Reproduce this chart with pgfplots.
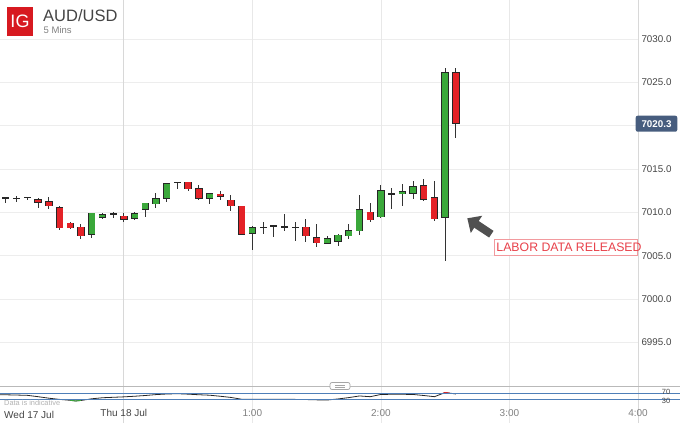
\documentclass[border=0pt]{standalone}
\usepackage{pgfplots}
\usepackage{pgfplotstable}
\pgfplotsset{compat=1.18}
\usepackage{fontspec}
\setmainfont{Liberation Sans}
\usetikzlibrary{arrows.meta}

\definecolor{cgreen}{HTML}{3AA83A}
\definecolor{cred}{HTML}{E42227}
\definecolor{outl}{HTML}{262626}
\definecolor{wick}{HTML}{333333}
\definecolor{gridc}{HTML}{EDEDED}
\definecolor{vgrid}{HTML}{E8E8E8}
\definecolor{vgridd}{HTML}{D8D8D8}
\definecolor{tickc}{HTML}{444444}
\definecolor{timec}{HTML}{808080}
\definecolor{igred}{HTML}{D71920}
\definecolor{pricebox}{HTML}{475D7E}
\definecolor{labred}{HTML}{E8414A}
\definecolor{labbox}{HTML}{F29A9E}
\definecolor{arrowc}{HTML}{505050}
\definecolor{rsiblue}{HTML}{4F7FB8}

% t = 5-minute candle index from 0:00 Thu 18 Jul
\pgfplotstableread{
t   o        h        l        c
-3  7007.47  7010.08  7007.20  7009.90
-2  7009.47  7010.01  7009.27  7009.74
1   7009.32  7010.13  7009.12  7009.85
2   7010.31  7011.24  7009.62  7011.01
3   7011.05  7012.32  7010.59  7011.59
4   7011.70  7013.51  7011.32  7013.36
8   7011.70  7012.25  7010.94  7012.21
12  7007.70  7008.43  7005.66  7008.35
19  7006.55  7007.31  7006.43  7007.08
20  7006.70  7007.56  7006.16  7007.39
21  7007.31  7008.63  7006.89  7007.93
22  7008.05  7012.13  7007.59  7010.48
24  7009.51  7013.25  7009.45  7012.47
26  7012.28  7013.36  7010.74  7012.51
27  7012.39  7013.75  7011.70  7013.13
30  7009.51  7026.83  7004.50  7026.22
}\greentbl

\pgfplotstableread{
t   o        h        l        c
-8  7011.52  7011.78  7010.66  7011.24
-7  7011.28  7011.90  7010.59  7010.78
-6  7010.66  7010.94  7008.17  7008.35
-5  7008.86  7008.95  7008.17  7008.35
-4  7008.28  7008.74  7007.01  7007.31
0   7009.59  7010.01  7009.04  7009.27
6   7013.48  7013.55  7012.51  7012.71
7   7012.79  7013.17  7011.52  7011.70
9   7012.13  7012.39  7011.35  7011.93
10  7011.43  7012.13  7010.28  7010.78
11  7010.86  7010.95  7007.56  7007.66
17  7008.28  7009.21  7006.62  7007.33
18  7007.20  7008.63  7005.97  7006.62
23  7010.13  7011.17  7008.93  7009.27
28  7013.25  7014.01  7011.43  7011.70
29  7011.82  7013.63  7009.04  7009.39
31  7026.14  7026.65  7018.56  7020.30
}\redtbl

\pgfplotstableread{
t   o        h        l        c
-11 7011.70  7011.82  7011.24  7011.70
-10 7011.63  7011.93  7011.24  7011.63
-9  7011.75  7011.80  7011.40  7011.75
-1  7009.82  7010.13  7009.51  7009.82
5   7013.48  7013.60  7012.79  7013.48
13  7008.28  7008.93  7007.59  7008.28
14  7008.47  7008.55  7007.20  7008.47
15  7008.35  7009.90  7007.97  7008.35
16  7008.28  7008.93  7006.81  7008.28
25  7012.13  7012.90  7010.48  7012.13
}\dojitbl

\pgfplotstableread{
t      v
-11.56 65.6
-10    63
-9     61
-8     52
-7     42
-6     34
-5     28
-4.5   23.5
-4     27
-3     38
-2     45
-1     48
0      51
1      55
2      60
3      66
4      70
5      72
6      69
7      65
8      62
9      55
10     47
11     35
12     34
13     34
14     34
15     34
16     34
17     33
18     31
19     30
20     37
21     46
22     57
23     52
24     67
25     68
26     68
27     67
28     60
29     52
30     80
31     70
}\rsitbl

\pgfplotsset{
  wickstyle/.style={draw=none, mark=none, forget plot,
    error bars/.cd, y dir=both, y explicit, error mark=none,
    error bar style={draw=wick, line width=1pt, solid}},
  bodystyle/.style 2 args={draw=none, mark=none, forget plot,
    error bars/.cd, y dir=both, y explicit, error mark=none,
    error bar style={draw=#1, line width=#2, solid}},
}

\begin{document}
\begin{tikzpicture}
\useasboundingbox (0pt,0pt) rectangle (680pt,423pt);

% ---------------- main price panel ----------------
\begin{axis}[
  at={(0pt,41pt)}, anchor=south west, scale only axis,
  width=638pt, height=382pt,
  xmin=-11.56, xmax=48, ymin=6990.41, ymax=7034.54,
  clip=false,
  axis line style={draw=none},
  major tick length=0pt,
  xtick=\empty,
  ytick={6995,7000,7005,7010,7015,7025,7030},
  extra y ticks={7020},
  extra y tick labels={},
  extra y tick style={ymajorgrids=true},
  yticklabel pos=right,
  ymajorgrids,
  major grid style={draw=gridc, line width=0.8pt},
  yticklabel style={font=\fontsize{9.8}{10}\selectfont, text=tickc},
  /pgf/number format/.cd, fixed, fixed zerofill, precision=1, 1000 sep={}, assume math mode=true,
]
\draw[vgridd, line width=0.9pt] (axis cs:0,6985.67) -- (axis cs:0,7034.54);
\draw[vgrid, line width=0.8pt] (axis cs:12,6985.67) -- (axis cs:12,7034.54);
\draw[vgrid, line width=0.8pt] (axis cs:24,6985.67) -- (axis cs:24,7034.54);
\draw[vgrid, line width=0.8pt] (axis cs:36,6985.67) -- (axis cs:36,7034.54);
\draw[vgridd, line width=0.8pt] (axis cs:48,6985.67) -- (axis cs:48,7034.54);

% wicks
\addplot[wickstyle] table[x=t, y expr={(\thisrow{h}+\thisrow{l})/2}, y error expr={(\thisrow{h}-\thisrow{l})/2}] {\greentbl};
\addplot[wickstyle] table[x=t, y expr={(\thisrow{h}+\thisrow{l})/2}, y error expr={(\thisrow{h}-\thisrow{l})/2}] {\redtbl};
\addplot[wickstyle] table[x=t, y expr={(\thisrow{h}+\thisrow{l})/2}, y error expr={(\thisrow{h}-\thisrow{l})/2}] {\dojitbl};

% body outlines
\addplot[bodystyle={outl}{7.4pt}] table[x=t, y expr={(\thisrow{o}+\thisrow{c})/2}, y error expr={abs(\thisrow{o}-\thisrow{c})/2+0.065}] {\greentbl};
\addplot[bodystyle={outl}{7.4pt}] table[x=t, y expr={(\thisrow{o}+\thisrow{c})/2}, y error expr={abs(\thisrow{o}-\thisrow{c})/2+0.065}] {\redtbl};
% body fills
\addplot[bodystyle={cgreen}{6pt}] table[x=t, y expr={(\thisrow{o}+\thisrow{c})/2}, y error expr={abs(\thisrow{o}-\thisrow{c})/2}] {\greentbl};
\addplot[bodystyle={cred}{6pt}] table[x=t, y expr={(\thisrow{o}+\thisrow{c})/2}, y error expr={abs(\thisrow{o}-\thisrow{c})/2}] {\redtbl};
% doji bars
\addplot[bodystyle={outl}{7pt}] table[x=t, y=o, y error expr={0.085}] {\dojitbl};
\end{axis}

% ---------------- indicator panel ----------------
\begin{axis}[
  at={(0pt,17pt)}, anchor=south west, scale only axis,
  width=638pt, height=20pt,
  xmin=-11.56, xmax=48, ymin=-10, ymax=123.3,
  clip=false,
  axis line style={draw=none},
  major tick length=0pt,
  ytick=\empty,
  xtick={0,12,24,36,48},
  xticklabels={{\textcolor{tickc}{Thu 18 Jul}},{\textcolor{timec}{1:00}},{\textcolor{timec}{2:00}},{\textcolor{timec}{3:00}},{\textcolor{timec}{4:00}}},
  xticklabel style={font=\fontsize{10}{10}\selectfont, yshift=0pt},
]
\addplot[black!85, line width=0.8pt, forget plot] table[x=t, y=v] {\rsitbl};
\addplot[cgreen, line width=0.9pt, forget plot] coordinates {(-5,28) (-4.5,23.5) (-4,27)};
\addplot[cred, line width=0.9pt, forget plot] coordinates {(29.7,72) (30,80) (30.4,76)};
\end{axis}

% panel separators and reference levels
\draw[gray!55, line width=0.9pt] (0pt,37pt) -- (680pt,37pt);
\draw[rsiblue, line width=1pt] (0pt,29pt) -- (680pt,29pt);
\draw[rsiblue, line width=1pt] (0pt,23pt) -- (680pt,23pt);
\draw[fill=white, draw=gray!70, line width=0.7pt, rounded corners=2pt] (330pt,33.5pt) rectangle (350pt,40.5pt);
\draw[gray!70, line width=0.6pt] (335pt,37.9pt) -- (345pt,37.9pt);
\draw[gray!70, line width=0.6pt] (335pt,36.1pt) -- (345pt,36.1pt);
\node[font=\fontsize{7.5}{7.5}\selectfont, text=tickc, inner sep=0pt] at (666pt,30.6pt) {70};
\node[font=\fontsize{7.5}{7.5}\selectfont, text=tickc, inner sep=0pt] at (666pt,22.4pt) {30};
\node[anchor=west, font=\fontsize{7.4}{7.4}\selectfont, text=gray!60, inner sep=0pt] at (4pt,20.5pt) {Data is indicative};
\node[anchor=west, font=\fontsize{10}{10}\selectfont, text=tickc, inner sep=0pt] at (4pt,8.5pt) {Wed 17 Jul};

% header
\fill[igred] (7.3pt,387.3pt) rectangle (32.7pt,415.7pt);
\node[text=white, font=\fontsize{18}{18}\selectfont, inner sep=0pt] at (20pt,401.5pt) {IG};
\node[anchor=base west, text=tickc, font=\fontsize{16.5}{16.5}\selectfont, inner sep=0pt] at (43pt,401.3pt) {AUD/USD};
\node[anchor=base west, text=timec, font=\fontsize{9.5}{9.5}\selectfont, inner sep=0pt] at (43.5pt,389.7pt) {5 Mins};

% last price tag
\fill[pricebox, rounded corners=2pt] (635.7pt,291.3pt) rectangle (677.3pt,307.3pt);
\node[text=white, font=\bfseries\fontsize{9.8}{10}\selectfont, inner sep=0pt] at (656.5pt,299.3pt) {7020.3};

% annotation
\draw[arrowc, line width=8pt, -{Triangle[length=11pt, width=20pt]}] (491.3pt,188.8pt) -- (467.3pt,204.7pt);
\draw[labbox, fill=white, line width=0.9pt] (494.3pt,168pt) rectangle (637.3pt,183.7pt);
\node[text=labred, font=\fontsize{12.3}{12.3}\selectfont, inner sep=0pt] at (569pt,175.8pt) {LABOR DATA RELEASED};
\end{tikzpicture}
\end{document}
